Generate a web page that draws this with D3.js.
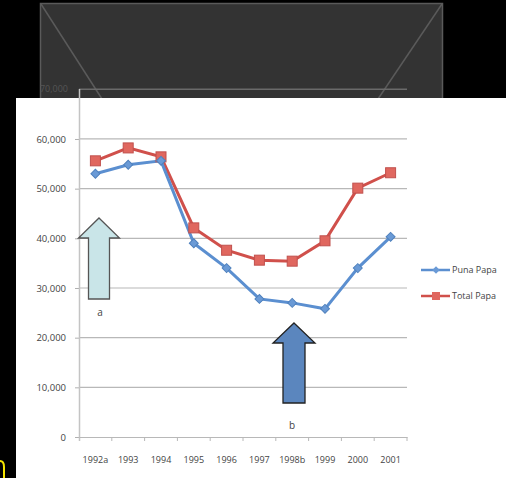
<!DOCTYPE html>
<html>
<head>
<meta charset="utf-8">
<script src="https://cdn.jsdelivr.net/npm/d3@7"></script>
<style>
  body { margin: 0; background: #000; }
  svg { display: block; }
  text { font-family: "Open Sans", "Liberation Sans", Arial, sans-serif; }
</style>
</head>
<body>
<div id="chart"></div>
<script>
// data
var years = ["1992a", "1993", "1994", "1995", "1996", "1997", "1998b", "1999", "2000", "2001"];
var puna = [53000, 54800, 55600, 39000, 34000, 27800, 27000, 25800, 34000, 40300];
var total = [55600, 58200, 56400, 42100, 37600, 35600, 35400, 39500, 50100, 53200];
var yTicks = [0, 10000, 20000, 30000, 40000, 50000, 60000, 70000];
var seriesNames = ["Puna Papa", "Total Papa"];

var svgWidth = 506, svgHeight = 478;
var svg = d3.select("#chart").append("svg")
    .attr("width", svgWidth)
    .attr("height", svgHeight);

svg.append("rect").attr("width", svgWidth).attr("height", svgHeight).attr("fill", "#000");

// dark slide placeholder at the top
svg.append("rect")
    .attr("x", 40.5).attr("y", 3.5).attr("width", 402).attr("height", 96)
    .attr("fill", "#333").attr("stroke", "#5a5a5a").attr("stroke-width", 1.5);
svg.append("line").attr("x1", 41).attr("y1", 4).attr("x2", 102).attr("y2", 99)
    .attr("stroke", "#5a5a5a").attr("stroke-width", 1.5);
svg.append("line").attr("x1", 442).attr("y1", 4).attr("x2", 378).attr("y2", 99)
    .attr("stroke", "#5a5a5a").attr("stroke-width", 1.5);

// scales
var x = d3.scaleBand().domain(years).range([79, 407]);
var y = d3.scaleLinear().domain([0, 70000]).range([437, 89.3]);

// gridline + label that show on the dark part
svg.append("line").attr("x1", 79).attr("x2", 407)
    .attr("y1", y(70000)).attr("y2", y(70000))
    .attr("stroke", "#6a6a6a").attr("stroke-width", 1.5);
svg.append("text").attr("x", 68).attr("y", y(70000) + 3)
    .attr("text-anchor", "end").attr("font-size", 9).attr("fill", "#555")
    .text(d3.format(",")(70000));

// white panel
svg.append("rect").attr("x", 16).attr("y", 98).attr("width", 490).attr("height", 380)
    .attr("fill", "#fff");

var chart = svg.append("g");

// gridlines
chart.append("g").selectAll("line")
    .data(yTicks.filter(function(d) { return d > 0 && d < 70000; }))
    .enter().append("line")
    .attr("x1", 79).attr("x2", 407)
    .attr("y1", function(d) { return y(d); })
    .attr("y2", function(d) { return y(d); })
    .attr("stroke", "#b8b8b8").attr("stroke-width", 1.2);

// y axis
var yAxis = d3.axisLeft(y).tickValues(yTicks.filter(function(d) { return d < 70000; }))
    .tickFormat(d3.format(",")).tickSize(4).tickPadding(9);
var gy = chart.append("g").attr("transform", "translate(79,0)").call(yAxis);
gy.select(".domain").remove();
gy.selectAll("line").attr("stroke", "#b0b0b0");
gy.selectAll("text").attr("font-size", 9.5).attr("fill", "#444");
chart.append("line").attr("x1", 79.5).attr("x2", 79.5).attr("y1", 89).attr("y2", 441)
    .attr("stroke", "#c4c4c4").attr("stroke-width", 1.5);

// x axis
var xAxis = d3.axisBottom(x).tickSize(0).tickPadding(20);
var gx = chart.append("g").attr("transform", "translate(0,437)").call(xAxis);
gx.select(".domain").attr("stroke", "#b8b8b8").attr("stroke-width", 1.2);
gx.selectAll("text").attr("font-size", 9).attr("fill", "#444");
chart.append("g").selectAll("line")
    .data(years)
    .enter().append("line")
    .attr("x1", function(d) { return x(d) + x.bandwidth(); })
    .attr("x2", function(d) { return x(d) + x.bandwidth(); })
    .attr("y1", 437).attr("y2", 441)
    .attr("stroke", "#b8b8b8");

// arrows
function arrowPath(cx, tipY, baseY, bottomY, headHalf, shaftHalf) {
  return "M" + cx + "," + tipY +
    "L" + (cx + headHalf) + "," + baseY +
    "L" + (cx + shaftHalf) + "," + baseY +
    "L" + (cx + shaftHalf) + "," + bottomY +
    "L" + (cx - shaftHalf) + "," + bottomY +
    "L" + (cx - shaftHalf) + "," + baseY +
    "L" + (cx - headHalf) + "," + baseY + "Z";
}
chart.append("path")
    .attr("d", arrowPath(99, 218, 238, 299, 20.5, 10.5))
    .attr("fill", "#c9e5e8").attr("stroke", "#555").attr("stroke-width", 1.3);
chart.append("text").attr("x", 100).attr("y", 316).attr("text-anchor", "middle")
    .attr("font-size", 10).attr("fill", "#444").text("a");

chart.append("path")
    .attr("d", arrowPath(294, 323, 343, 403, 21, 11))
    .attr("fill", "#5b86be").attr("stroke", "#222").attr("stroke-width", 1.3);
chart.append("text").attr("x", 292).attr("y", 429).attr("text-anchor", "middle")
    .attr("font-size", 10).attr("fill", "#444").text("b");

// lines
var line = d3.line()
    .x(function(d, i) { return x(years[i]) + x.bandwidth() / 2; })
    .y(function(d) { return y(d); });

var blue = "#5b8fd0", red = "#d0504b";

chart.append("path").datum(total).attr("d", line)
    .attr("fill", "none").attr("stroke", red).attr("stroke-width", 3);
chart.append("path").datum(puna).attr("d", line)
    .attr("fill", "none").attr("stroke", blue).attr("stroke-width", 3);

chart.append("g").selectAll("rect").data(total).enter().append("rect")
    .attr("x", function(d, i) { return x(years[i]) + x.bandwidth() / 2 - 5; })
    .attr("y", function(d) { return y(d) - 5; })
    .attr("width", 10).attr("height", 10)
    .attr("fill", "#e0675f").attr("stroke", "#c0504d").attr("stroke-width", 1);

// diamonds: squares turned 45 degrees
chart.append("g").selectAll("path").data(puna).enter().append("path")
    .attr("d", d3.symbol().type(d3.symbolSquare).size(40))
    .attr("transform", function(d, i) {
      return "translate(" + (x(years[i]) + x.bandwidth() / 2) + "," + y(d) + ") rotate(45)";
    })
    .attr("fill", "#6a9ad6").attr("stroke", "#4f81bd").attr("stroke-width", 1);

// legend
var legend = chart.append("g");
var legY = [270, 296];
legend.append("line").attr("x1", 421).attr("x2", 450).attr("y1", legY[0]).attr("y2", legY[0])
    .attr("stroke", blue).attr("stroke-width", 2.5);
legend.append("path").attr("d", d3.symbol().type(d3.symbolSquare).size(28))
    .attr("transform", "translate(436," + legY[0] + ") rotate(45)").attr("fill", "#6a9ad6");
legend.append("line").attr("x1", 421).attr("x2", 450).attr("y1", legY[1]).attr("y2", legY[1])
    .attr("stroke", red).attr("stroke-width", 2.5);
legend.append("rect").attr("x", 432).attr("y", legY[1] - 4).attr("width", 8).attr("height", 8)
    .attr("fill", "#e0675f");
legend.selectAll("text").data(seriesNames).enter().append("text")
    .attr("x", 452).attr("y", function(d, i) { return legY[i] + 3; })
    .attr("font-size", 9).attr("fill", "#444")
    .text(function(d) { return d; });

// yellow mark at bottom-left corner
svg.append("path").attr("d", "M0,461 Q4,461 4,467 L4,478")
    .attr("fill", "none").attr("stroke", "#f5e400").attr("stroke-width", 2);
</script>
</body>
</html>
